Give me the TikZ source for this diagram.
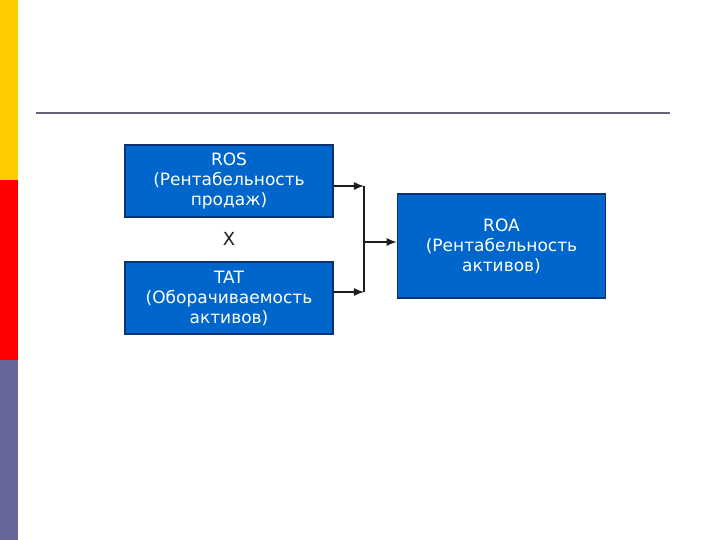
\documentclass[tikz,border=0pt]{standalone}
\usepackage{fontspec}
\setmainfont{DejaVu Sans}
\usetikzlibrary{arrows.meta,positioning,calc}
\definecolor{barY}{RGB}{255,204,0}
\definecolor{barR}{RGB}{255,0,0}
\definecolor{barP}{RGB}{102,102,153}
\definecolor{rule}{RGB}{100,100,120}
\definecolor{boxfill}{RGB}{0,102,204}
\definecolor{boxedge}{RGB}{10,50,120}
\definecolor{ink}{RGB}{30,30,30}
\tikzset{
  every picture/.style={line width=0.6pt},
  box/.style={draw=boxedge, fill=boxfill, text=white, line width=0.8pt,
    font=\fontsize{8.5}{10}\selectfont, align=center,
    minimum width=104pt, minimum height=36pt, inner sep=2pt},
  flow/.style={-{Latex[length=5pt,width=4pt]}, draw=ink, line width=0.7pt},
  link/.style={draw=ink, line width=0.7pt},
}

\begin{document}
\begin{tikzpicture}[x=0.5pt,y=-0.5pt]
  % slide frame
  \useasboundingbox (0,0) rectangle (720,540);
  \fill[white] (0,0) rectangle (720,540);
  \fill[barY] (0,0) rectangle (18,180);
  \fill[barR] (0,180) rectangle (18,360);
  \fill[barP] (0,360) rectangle (18,540);
  \draw[rule, line width=1pt] (36,113) -- (670,113);
  % ROS x TAT = ROA
  \node[box] (ros) at (229,181) {ROS\\(Рентабельность\\продаж)};
  \node[box] (tat) at (229,298) {TAT\\(Оборачиваемость\\активов)};
  \node[font=\fontsize{9}{10}\selectfont, text=ink] (times) at (229,239) {Х};
  \node[box, minimum height=52pt] (roa) at (501.5,246) {ROA\\(Рентабельность\\активов)};
  \coordinate (jtop) at (364,186);
  \coordinate (jbot) at (364,292);
  \coordinate (jmid) at (364,242);
  \draw[flow] (ros.east |- jtop) -- (jtop);
  \draw[flow] (tat.east |- jbot) -- (jbot);
  \draw[link] (jtop) -- (jbot);
  \draw[flow] (jmid) -- (roa.west |- jmid);
\end{tikzpicture}
\end{document}
